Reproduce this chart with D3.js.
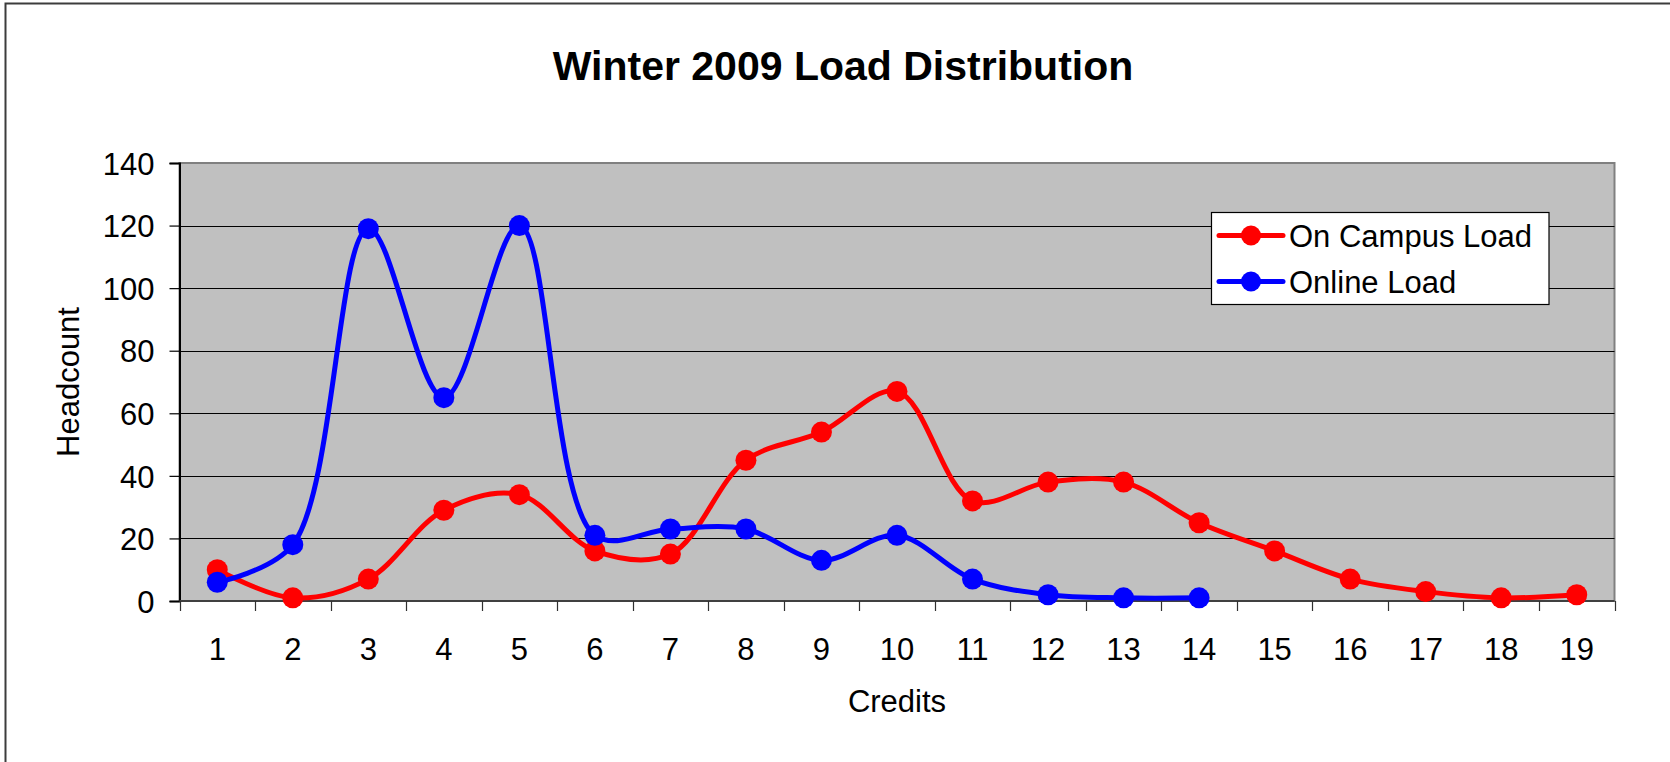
<!DOCTYPE html>
<html>
<head>
<meta charset="utf-8">
<script src="https://cdn.jsdelivr.net/npm/d3@7"></script>
<style>
  html, body { margin: 0; padding: 0; background: #ffffff; }
  svg { display: block; }
  text { font-family: "Liberation Sans", Arial, sans-serif; fill: #000; }
</style>
</head>
<body>
<svg id="chart" width="1670" height="762"></svg>
<script>
// ---- data ----
const credits = ["1","2","3","4","5","6","7","8","9","10","11","12","13","14","15","16","17","18","19"];
const onCampus = [10, 1, 7, 29, 34, 16, 15, 45, 54, 67, 32, 38, 38, 25, 16, 7, 3, 1, 2];
const online = [6, 18, 119, 65, 120, 21, 23, 23, 13, 21, 7, 2, 1, 1];
const yTicks = [0, 20, 40, 60, 80, 100, 120, 140];
const seriesNames = ["On Campus Load", "Online Load"];
const seriesColors = ["#FF0000", "#0000FF"];
const titleText = "Winter 2009 Load Distribution";
const xTitle = "Credits";
const yTitle = "Headcount";

// ---- layout ----
const W = 1670, H = 762;
const plot = { left: 179.5, right: 1614.5, top: 163, bottom: 601 };

const svg = d3.select("#chart");

// outer chart border (only top and left visible in the frame)
svg.append("path")
  .attr("d", `M5.5,${H} L5.5,3.5 L${W},3.5`)
  .attr("fill", "none").attr("stroke", "#3c3c3c").attr("stroke-width", 2);

const x = d3.scaleBand().domain(credits).range([plot.left, plot.right]).padding(0);
const y = d3.scaleLinear().domain([0, 140]).range([plot.bottom, plot.top]);
const cx = c => x(c) + x.bandwidth() / 2;

// plot background
svg.append("rect")
  .attr("x", plot.left).attr("y", plot.top)
  .attr("width", plot.right - plot.left).attr("height", plot.bottom - plot.top)
  .attr("fill", "#C0C0C0").attr("stroke", "#808080").attr("stroke-width", 2);

// gridlines
svg.append("g").selectAll("line")
  .data(yTicks.filter(v => v > 0 && v < 140))
  .join("line")
  .attr("x1", plot.left).attr("x2", plot.right)
  .attr("y1", d => Math.round(y(d)) + 0.5).attr("y2", d => Math.round(y(d)) + 0.5)
  .attr("stroke", "#000").attr("stroke-width", 1.2);

// y axis
const yAxis = svg.append("g").attr("transform", `translate(${plot.left},0)`)
  .call(d3.axisLeft(y).tickValues(yTicks).tickSize(10).tickPadding(15).tickFormat(d3.format("d")));
yAxis.select(".domain").attr("stroke", "#000").attr("stroke-width", 2);
yAxis.selectAll(".tick line").attr("stroke", "#000").attr("stroke-width", 1.2);
yAxis.selectAll(".tick text")
  .attr("font-family", "'Liberation Sans', Arial, sans-serif")
  .attr("font-size", 31).attr("fill", "#000").attr("dy", "0.36em");

// x axis: tick marks at category boundaries, labels at centers
const xg = svg.append("g");
xg.append("line")
  .attr("x1", plot.left).attr("x2", plot.right)
  .attr("y1", plot.bottom).attr("y2", plot.bottom)
  .attr("stroke", "#404040").attr("stroke-width", 2);
const bounds = credits.map(c => x(c)).concat([x.range()[1]]);
xg.selectAll("line.tk").data(bounds).join("line").attr("class", "tk")
  .attr("x1", d => Math.round(d) + 0.5).attr("x2", d => Math.round(d) + 0.5)
  .attr("y1", plot.bottom).attr("y2", plot.bottom + 10)
  .attr("stroke", "#303030").attr("stroke-width", 1.2);
xg.selectAll("text").data(credits).join("text")
  .attr("x", d => cx(d)).attr("y", 660)
  .attr("text-anchor", "middle").attr("font-size", 31)
  .text(d => d);

// titles
svg.append("text").attr("x", 843).attr("y", 79.5)
  .attr("text-anchor", "middle").attr("font-size", 41).attr("font-weight", "bold")
  .text(titleText);
svg.append("text").attr("x", (plot.left + plot.right) / 2).attr("y", 712)
  .attr("text-anchor", "middle").attr("font-size", 31)
  .text(xTitle);
svg.append("text")
  .attr("transform", `translate(79, ${(plot.top + plot.bottom) / 2}) rotate(-90)`)
  .attr("text-anchor", "middle").attr("font-size", 31)
  .text(yTitle);

// series
const series = [
  { name: seriesNames[0], color: seriesColors[0], values: onCampus },
  { name: seriesNames[1], color: seriesColors[1], values: online }
];
const line = d3.line()
  .x((d, i) => cx(credits[i]))
  .y(d => y(d))
  .curve(d3.curveCatmullRom.alpha(0.5));

const sg = svg.append("g");
series.forEach(s => {
  const g = sg.append("g");
  g.append("path").datum(s.values)
    .attr("d", line)
    .attr("fill", "none").attr("stroke", s.color).attr("stroke-width", 5)
    .attr("stroke-linejoin", "round");
  g.selectAll("circle").data(s.values).join("circle")
    .attr("cx", (d, i) => cx(credits[i])).attr("cy", d => y(d))
    .attr("r", 10.5).attr("fill", s.color);
});

// legend
const lg = svg.append("g");
lg.append("rect").attr("x", 1211.5).attr("y", 212.5).attr("width", 337.5).attr("height", 92)
  .attr("fill", "#fff").attr("stroke", "#000").attr("stroke-width", 1.2);
const legendY = [235.5, 281.5];
series.forEach((s, i) => {
  lg.append("line").attr("x1", 1219).attr("x2", 1283)
    .attr("y1", legendY[i]).attr("y2", legendY[i])
    .attr("stroke", s.color).attr("stroke-width", 5).attr("stroke-linecap", "round");
  lg.append("circle").attr("cx", 1251).attr("cy", legendY[i]).attr("r", 10).attr("fill", s.color);
  lg.append("text").attr("x", 1289).attr("y", legendY[i] + 11.5)
    .attr("font-size", 31).text(s.name);
});
</script>
</body>
</html>
